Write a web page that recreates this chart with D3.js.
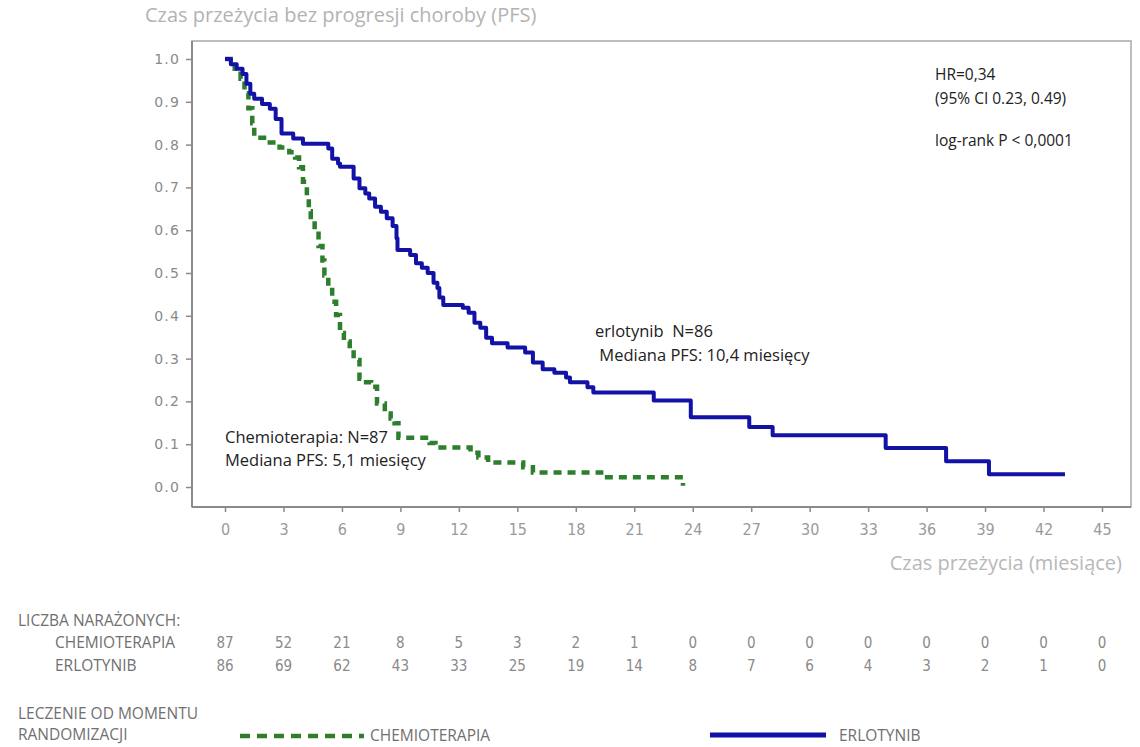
<!DOCTYPE html>
<html>
<head>
<meta charset="utf-8">
<script src="https://cdn.jsdelivr.net/npm/d3@7"></script>
<style>
  html, body { margin: 0; padding: 0; background: #fff; }
  svg { display: block; }
</style>
</head>
<body>
<svg id="chart" width="1140" height="747"></svg>
<script>
// Kaplan–Meier step points: [month, PFS probability after the event]
const erlotynib = [
  [0, 1.0], [0.3, 0.988], [0.6, 0.977], [0.9, 0.965], [1.1, 0.942], [1.3, 0.919],
  [1.5, 0.907], [1.9, 0.895], [2.3, 0.884], [2.6, 0.860], [2.9, 0.826], [3.5, 0.814],
  [4.0, 0.802], [5.3, 0.791], [5.5, 0.767], [5.8, 0.756], [5.9, 0.748], [6.6, 0.721],
  [6.9, 0.698], [7.2, 0.686], [7.4, 0.674], [7.7, 0.655], [8.0, 0.643], [8.3, 0.628],
  [8.6, 0.610], [8.8, 0.581], [8.85, 0.554], [9.5, 0.542], [9.8, 0.523], [10.1, 0.512],
  [10.4, 0.500], [10.7, 0.477], [10.9, 0.465], [11.0, 0.443], [11.2, 0.425], [12.2, 0.419],
  [12.5, 0.407], [12.8, 0.384], [13.1, 0.372], [13.4, 0.349], [13.7, 0.336], [14.5, 0.326],
  [15.4, 0.314], [15.8, 0.291], [16.3, 0.275], [16.9, 0.267], [17.5, 0.256], [17.7, 0.245],
  [18.6, 0.233], [18.9, 0.221], [22.0, 0.202], [23.9, 0.163], [26.9, 0.140], [28.1, 0.121],
  [33.9, 0.091], [37.0, 0.060], [39.2, 0.030], [43.1, 0.030]
];

const chemioterapia = [
  [0, 1.0], [0.5, 0.977], [0.8, 0.954], [1.0, 0.920], [1.2, 0.885], [1.4, 0.850],
  [1.5, 0.816], [2.3, 0.805], [2.8, 0.793], [3.3, 0.782], [3.6, 0.770], [3.8, 0.747],
  [4.0, 0.713], [4.2, 0.678], [4.3, 0.644], [4.4, 0.621], [4.6, 0.598], [4.8, 0.563],
  [5.0, 0.529], [5.1, 0.494], [5.3, 0.460], [5.5, 0.433], [5.7, 0.402], [5.9, 0.360],
  [6.1, 0.340], [6.4, 0.322], [6.6, 0.297], [6.9, 0.253], [7.0, 0.245], [7.5, 0.234],
  [7.8, 0.195], [8.2, 0.172], [8.5, 0.160], [8.7, 0.149], [8.9, 0.115], [10.5, 0.103],
  [10.8, 0.092], [12.6, 0.080], [13.0, 0.069], [13.5, 0.057], [15.3, 0.046], [15.8, 0.034],
  [19.3, 0.023], [23.5, 0.003]
];

const xTicks = [0, 3, 6, 9, 12, 15, 18, 21, 24, 27, 30, 33, 36, 39, 42, 45];
const yTicks = [0, 0.1, 0.2, 0.3, 0.4, 0.5, 0.6, 0.7, 0.8, 0.9, 1.0];

// Numbers at risk at each x tick
const riskChemio = [87, 52, 21, 8, 5, 3, 2, 1, 0, 0, 0, 0, 0, 0, 0, 0];
const riskErlo = [86, 69, 62, 43, 33, 25, 19, 14, 8, 7, 6, 4, 3, 2, 1, 0];

const title = "Czas przeżycia bez progresji choroby (PFS)";
const xTitle = "Czas przeżycia (miesiące)";
const statsLines = ["HR=0,34", "(95% CI 0.23, 0.49)", "log-rank P < 0,0001"];
const chemioNote = ["Chemioterapia: N=87", "Mediana PFS: 5,1 miesięcy"];
const erloNote = ["erlotynib  N=86", " Mediana PFS: 10,4 miesięcy"];

const BLUE = "#1212a6";
const GREEN = "#2d7f2d";

const svg = d3.select("#chart");

const x = d3.scaleLinear().domain([0, 45]).range([225, 1102]);
const y = d3.scaleLinear().domain([0, 1]).range([487, 59]);

const frame = { left: 192, right: 1131, top: 41, bottom: 507 };

// Plot frame
svg.append("rect")
  .attr("x", frame.left).attr("y", frame.top)
  .attr("width", frame.right - frame.left).attr("height", frame.bottom - frame.top)
  .attr("fill", "none").attr("stroke", "#a8a8a8").attr("stroke-width", 1.5);
svg.append("line")
  .attr("x1", frame.left).attr("x2", frame.left)
  .attr("y1", frame.top).attr("y2", frame.bottom)
  .attr("stroke", "#8a8a8a").attr("stroke-width", 2);
svg.append("line")
  .attr("x1", frame.left).attr("x2", frame.right)
  .attr("y1", frame.bottom).attr("y2", frame.bottom)
  .attr("stroke", "#8a8a8a").attr("stroke-width", 2);

// Y axis
const yAxis = svg.append("g")
  .attr("transform", `translate(${frame.left},0)`)
  .call(d3.axisLeft(y).tickValues(yTicks).tickFormat(d3.format(".1f")).tickSize(6).tickPadding(6));
yAxis.select(".domain").remove();
yAxis.selectAll(".tick line").attr("stroke", "#8a8a8a").attr("stroke-width", 1.5);
yAxis.selectAll(".tick text")
  .attr("fill", "#8a8a8a")
  .style("font-family", "'DejaVu Sans', sans-serif")
  .style("font-size", "14px")
  .style("letter-spacing", "1.2px");

// X axis
const xAxis = svg.append("g")
  .attr("transform", `translate(0,${frame.bottom})`)
  .call(d3.axisBottom(x).tickValues(xTicks).tickFormat(d3.format("d")).tickSize(5).tickPadding(12));
xAxis.select(".domain").remove();
xAxis.selectAll(".tick line").attr("stroke", "#8a8a8a").attr("stroke-width", 1.5);
xAxis.selectAll(".tick text")
  .attr("fill", "#9a9a9a")
  .style("font-family", "'DejaVu Sans', sans-serif")
  .style("font-stretch", "condensed")
  .style("font-size", "16px");

// Titles
svg.append("text")
  .attr("x", 145).attr("y", 22)
  .attr("fill", "#b3b3b3")
  .style("font-family", "'Open Sans', sans-serif")
  .style("font-size", "20px")
  .text(title);
svg.append("text")
  .attr("x", 1122).attr("y", 570)
  .attr("text-anchor", "end")
  .attr("fill", "#b8b8b8")
  .style("font-family", "'Open Sans', sans-serif")
  .style("font-size", "20px")
  .text(xTitle);

// Survival curves
const line = d3.line()
  .x(d => x(d[0]))
  .y(d => y(d[1]))
  .curve(d3.curveStepAfter);

svg.append("path")
  .datum(chemioterapia)
  .attr("d", line)
  .attr("fill", "none")
  .attr("stroke", GREEN)
  .attr("stroke-width", 4.5)
  .attr("stroke-dasharray", "8,6");

svg.append("path")
  .datum(erlotynib)
  .attr("d", line)
  .attr("fill", "none")
  .attr("stroke", BLUE)
  .attr("stroke-width", 4)
  .attr("stroke-linejoin", "round");

// Annotations
const noteFont = "'Open Sans', sans-serif";
function block(lines, x0, y0, dy, size) {
  const g = svg.append("g");
  lines.forEach((t, i) => {
    g.append("text")
      .attr("x", x0).attr("y", y0 + i * dy)
      .attr("fill", "#222")
      .style("font-family", noteFont)
      .style("font-size", size + "px")
      .style("white-space", "pre")
      .attr("xml:space", "preserve")
      .text(t);
  });
}
block(chemioNote, 225, 443, 23, 16.5);
block(erloNote, 595, 337, 24, 16.5);
block(statsLines.slice(0, 2), 935, 80, 24, 15.5);
block(statsLines.slice(2), 935, 146, 0, 15.5);

// Numbers at risk
const tableFont = "'Open Sans', sans-serif";
const labelSize = "15.5px";
function label(t, x0, y0) {
  svg.append("text")
    .attr("x", x0).attr("y", y0)
    .attr("fill", "#707070")
    .style("font-family", tableFont).style("font-size", labelSize)
    .text(t);
}
label("LICZBA NARAŻONYCH:", 18, 626);
label("CHEMIOTERAPIA", 55, 648);
label("ERLOTYNIB", 55, 671);

function riskRow(vals, yPos) {
  svg.append("g").selectAll("text")
    .data(vals)
    .join("text")
    .attr("x", (d, i) => x(xTicks[i]))
    .attr("y", yPos)
    .attr("text-anchor", "middle")
    .attr("fill", "#8a8a8a")
    .style("font-family", "'DejaVu Sans', sans-serif")
    .style("font-stretch", "condensed")
    .style("font-size", "15px")
    .text(d => d);
}
riskRow(riskChemio, 648);
riskRow(riskErlo, 671);

// Legend
label("LECZENIE OD MOMENTU", 18, 719);
label("RANDOMIZACJI", 18, 740);

svg.append("line")
  .attr("x1", 240).attr("x2", 364)
  .attr("y1", 736).attr("y2", 736)
  .attr("stroke", GREEN).attr("stroke-width", 4.5)
  .attr("stroke-dasharray", "10,7");
label("CHEMIOTERAPIA", 370, 741);

svg.append("line")
  .attr("x1", 710).attr("x2", 826)
  .attr("y1", 735).attr("y2", 735)
  .attr("stroke", BLUE).attr("stroke-width", 5);
label("ERLOTYNIB", 839, 741);
</script>
</body>
</html>
